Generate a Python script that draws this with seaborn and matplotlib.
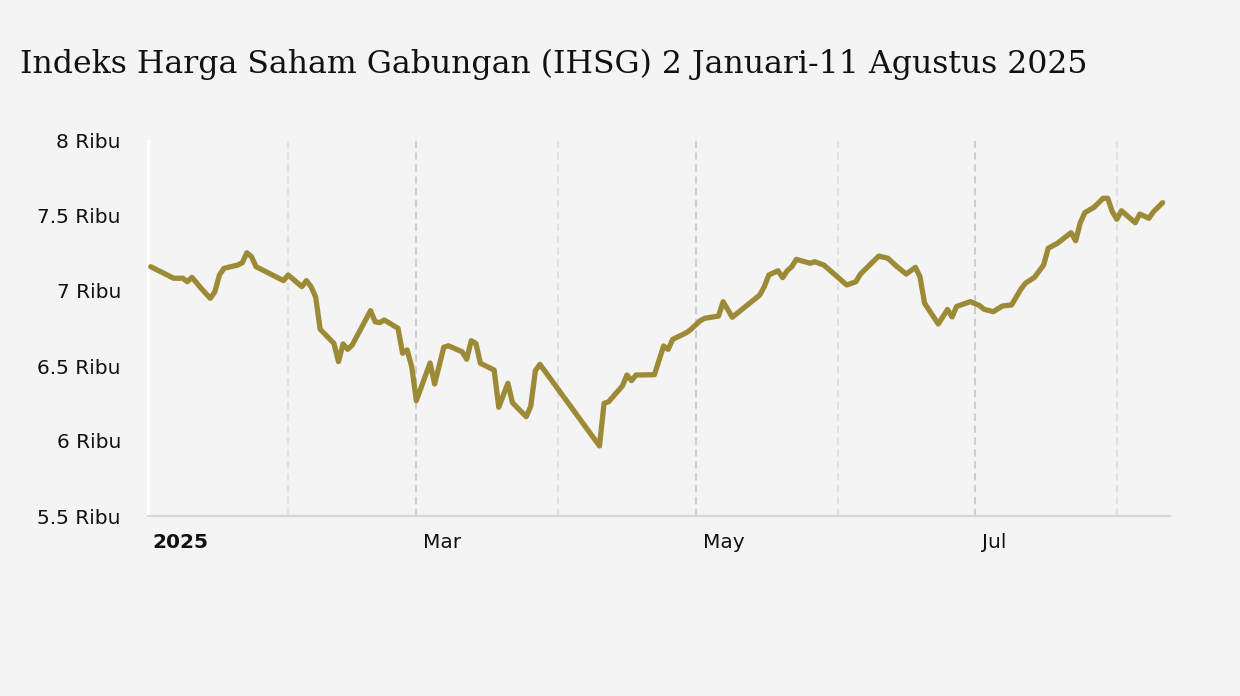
import numpy as np
import pandas as pd
import matplotlib
matplotlib.use("Agg")
import matplotlib.pyplot as plt
import matplotlib.dates as mdates
from matplotlib.transforms import ScaledTranslation
import seaborn as sns

# ---- data ----
dates = [
    "2025-01-02", "2025-01-07", "2025-01-09", "2025-01-10", "2025-01-11", "2025-01-13",
    "2025-01-15", "2025-01-16", "2025-01-17", "2025-01-18", "2025-01-21", "2025-01-22",
    "2025-01-23", "2025-01-24", "2025-01-25", "2025-01-31", "2025-02-01", "2025-02-04",
    "2025-02-05", "2025-02-06", "2025-02-07", "2025-02-08", "2025-02-11", "2025-02-12",
    "2025-02-13", "2025-02-14", "2025-02-15", "2025-02-19", "2025-02-20", "2025-02-21",
    "2025-02-22", "2025-02-25", "2025-02-26", "2025-02-27", "2025-02-28", "2025-03-01",
    "2025-03-04", "2025-03-05", "2025-03-07", "2025-03-08", "2025-03-11", "2025-03-12",
    "2025-03-13", "2025-03-14", "2025-03-15", "2025-03-18", "2025-03-19", "2025-03-21",
    "2025-03-22", "2025-03-25", "2025-03-26", "2025-03-27", "2025-03-28", "2025-04-10",
    "2025-04-11", "2025-04-12", "2025-04-15", "2025-04-16", "2025-04-17", "2025-04-18",
    "2025-04-22", "2025-04-24", "2025-04-25", "2025-04-26", "2025-04-29", "2025-04-30",
    "2025-05-02", "2025-05-03", "2025-05-06", "2025-05-07", "2025-05-09", "2025-05-15",
    "2025-05-16", "2025-05-17", "2025-05-19", "2025-05-20", "2025-05-21", "2025-05-22",
    "2025-05-23", "2025-05-26", "2025-05-27", "2025-05-29", "2025-06-03", "2025-06-05",
    "2025-06-06", "2025-06-10", "2025-06-12", "2025-06-14", "2025-06-16", "2025-06-18",
    "2025-06-19", "2025-06-20", "2025-06-23", "2025-06-25", "2025-06-26", "2025-06-27",
    "2025-06-30", "2025-07-02", "2025-07-03", "2025-07-05", "2025-07-07", "2025-07-09",
    "2025-07-11", "2025-07-12", "2025-07-14", "2025-07-16", "2025-07-17", "2025-07-19",
    "2025-07-22", "2025-07-23", "2025-07-24", "2025-07-25", "2025-07-27", "2025-07-29",
    "2025-07-30", "2025-07-31", "2025-08-01", "2025-08-02", "2025-08-05", "2025-08-06",
    "2025-08-08", "2025-08-09", "2025-08-11",
]
ihsg = [
    7162, 7085, 7085, 7062, 7091, 7018,
    6951, 6995, 7107, 7151, 7173, 7189,
    7255, 7229, 7162, 7069, 7107, 7029,
    7069, 7029, 6962, 6745, 6651, 6529,
    6647, 6611, 6640, 6869, 6795, 6789,
    6807, 6751, 6585, 6607, 6495, 6269,
    6520, 6380, 6625, 6635, 6595, 6545,
    6669, 6651, 6518, 6473, 6225, 6385,
    6255, 6162, 6233, 6469, 6511, 5967,
    6251, 6262, 6367, 6440, 6402, 6440,
    6442, 6633, 6611, 6678, 6722, 6745,
    6802, 6818, 6833, 6929, 6825, 6973,
    7029, 7107, 7135, 7089, 7135, 7162,
    7211, 7185, 7195, 7173, 7040, 7062,
    7113, 7233, 7218, 7162, 7113, 7158,
    7095, 6918, 6780, 6877, 6827, 6897,
    6929, 6903, 6878, 6862, 6900, 6907,
    7011, 7051, 7091, 7173, 7285, 7318,
    7389, 7335, 7455, 7522, 7558, 7618,
    7618, 7529, 7478, 7535, 7455, 7513,
    7485, 7529, 7589,
]
y_ticks = [5500, 6000, 6500, 7000, 7500, 8000]
y_tick_labels = ["5.5 Ribu", "6 Ribu", "6.5 Ribu", "7 Ribu", "7.5 Ribu", "8 Ribu"]
major_months = ["2025-03-01", "2025-05-01", "2025-07-01"]
major_labels = ["Mar", "May", "Jul"]
minor_months = ["2025-02-01", "2025-04-01", "2025-06-01", "2025-08-01"]
year_label = "2025"
title = "Indeks Harga Saham Gabungan (IHSG) 2 Januari-11 Agustus 2025"

df = pd.DataFrame({"tanggal": pd.to_datetime(dates), "ihsg": ihsg})

# ---- style ----
BG = "#f4f4f4"
LINE = "#9d8a36"
sns.set_style("white")
plt.rcParams["font.family"] = ["DejaVu Sans"]

W, H = 1240, 696
fig = plt.figure(figsize=(W / 100, H / 100), dpi=100, facecolor=BG)
ax = fig.add_axes([148 / W, (H - 516) / H, (1170 - 148) / W, (516 - 141) / H])
ax.set_facecolor(BG)

sns.lineplot(data=df, x="tanggal", y="ihsg", ax=ax, color=LINE, linewidth=3.8,
             solid_joinstyle="round", solid_capstyle="round", zorder=3)

x0 = mdates.date2num(pd.Timestamp("2025-01-02")) - 0.6
x1 = mdates.date2num(pd.Timestamp("2025-08-11")) + 1.6
ax.set_xlim(x0, x1)
ax.set_ylim(5500, 8000)

# x ticks / grid
ax.set_xticks(mdates.date2num(pd.to_datetime(major_months)))
ax.set_xticks(mdates.date2num(pd.to_datetime(minor_months)), minor=True)
ax.set_xticklabels(major_labels)
ax.grid(False)
ax.xaxis.grid(True, which="major", color="#cdcdcd", linestyle=(0, (3.5, 2.2)), linewidth=1.5, zorder=0)
ax.xaxis.grid(True, which="minor", color="#e1e1e1", linestyle=(0, (3.5, 2.2)), linewidth=1.5, zorder=0)
ax.tick_params(axis="x", which="major", direction="out", length=7, width=1.5,
               color="#cdcdcd", labelsize=14.5, pad=5.5, labelcolor="#111111")
ax.tick_params(axis="x", which="minor", length=0)
for lab in ax.get_xticklabels():
    lab.set_horizontalalignment("left")
    lab.set_transform(lab.get_transform() + ScaledTranslation(7 / 100, 0, fig.dpi_scale_trans))

ax.annotate(year_label, xy=(mdates.date2num(pd.Timestamp("2025-01-01")), 0),
            xycoords=("data", "axes fraction"), xytext=(4.6, -12.3), textcoords="offset points",
            ha="left", va="top", fontsize=14.5, fontweight="bold", color="#111111",
            annotation_clip=False)

# y ticks
ax.set_yticks(y_ticks)
ax.set_yticklabels(y_tick_labels)
ax.tick_params(axis="y", direction="out", length=8.5, width=2.2, color="white",
               labelsize=14.5, pad=11, labelcolor="#111111")

for s in ["top", "right"]:
    ax.spines[s].set_visible(False)
ax.spines["left"].set_color("white")
ax.spines["left"].set_linewidth(2.4)
ax.spines["bottom"].set_color("#d6d6d6")
ax.spines["bottom"].set_linewidth(1.6)
ax.set_xlabel("")
ax.set_ylabel("")

fig.text(20 / W, 1 - 73.5 / H, title, fontsize=22.7, family="DejaVu Serif",
         color="#111111", ha="left", va="baseline")

fig.savefig("out.png", dpi=100, facecolor=BG)
